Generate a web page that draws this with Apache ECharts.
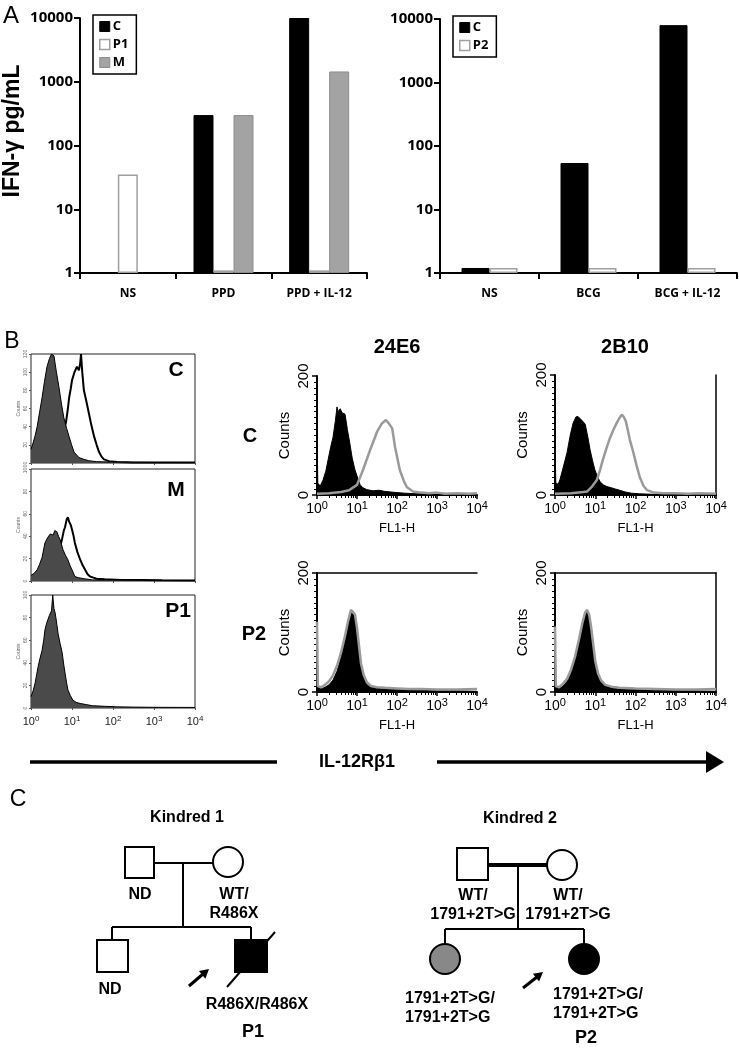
<!DOCTYPE html>
<html><head><meta charset="utf-8">
<script src="https://cdn.jsdelivr.net/npm/echarts@6/dist/echarts.min.js"></script>
<style>html,body{margin:0;padding:0;background:#fff}#c{width:739px;height:1050px}</style>
</head><body><div id="c"></div><script>
// ---------- Panel A data ----------
const catsA1 = ['NS', 'PPD', 'PPD + IL-12'];
const a1C  = [null, 300, 10000];
const a1P1 = [35, 1.1, 1.1];
const a1M  = [null, 300, 1450];
const catsA2 = ['NS', 'BCG', 'BCG + IL-12'];
const a2C  = [1.2, 54, 8000];
const a2P2 = [1.2, 1.2, 1.2];
const flTickExp = ['0', '1', '2', '3', '4'];

// ---------- Panel B data: [log10(FL1-H), counts] ----------
const bC_iso = [[0,15],[0.05,22],[0.1,30],[0.15,40],[0.21,56],[0.27,72],[0.33,90],[0.39,106],[0.45,115],[0.5,120],[0.53,120],[0.56,118],[0.62,100],[0.68,84],[0.74,66],[0.8,50],[0.87,38],[0.93,29],[0.99,20],[1.05,12],[1.11,9],[1.17,6],[1.29,4],[1.41,2.5],[1.6,1.5],[2,1],[2.5,0.8],[3,0.6],[3.5,0.6],[4,0.5]];
const bC_ab  = [[0,1],[0.3,3],[0.5,8],[0.65,18],[0.75,30],[0.85,44],[0.9,60],[0.93,72],[0.97,82],[1.0,91],[1.06,100],[1.12,106],[1.17,102],[1.2,110],[1.22,120],[1.25,100],[1.29,80],[1.35,68],[1.41,55],[1.47,42],[1.54,29],[1.6,20],[1.66,12],[1.72,7],[1.78,4],[1.9,2],[2.1,1],[2.5,0.6],[3,0.5],[4,0.5]];
const bM_iso = [[0,5],[0.08,7],[0.15,10],[0.21,15],[0.27,21],[0.34,34],[0.41,39],[0.47,42],[0.54,41],[0.58,45],[0.63,44],[0.67,40],[0.71,37],[0.78,28],[0.84,23],[0.9,19],[0.95,14],[1.0,10],[1.07,4],[1.15,3],[1.3,2],[1.5,1],[2,0.8],[3,0.5],[4,0.5]];
const bM_ab  = [[0,1],[0.3,3],[0.5,10],[0.65,22],[0.72,32],[0.76,38],[0.8,45],[0.83,48],[0.87,55],[0.9,57],[0.93,53],[0.97,50],[1.0,46],[1.04,40],[1.07,34],[1.13,26],[1.2,19],[1.26,14],[1.32,10],[1.38,6],[1.44,4],[1.52,3],[1.6,2],[1.8,1.5],[2.2,1],[2.7,0.8],[3.2,0.6],[4,0.5]];
const bP1_iso = [[0,10],[0.05,15],[0.1,22],[0.17,36],[0.22,44],[0.27,51],[0.31,60],[0.34,69],[0.38,75],[0.41,78],[0.45,82],[0.5,86],[0.53,100],[0.56,88],[0.59,84],[0.63,74],[0.66,66],[0.71,57],[0.76,49],[0.8,38],[0.83,31],[0.87,22],[0.9,16],[0.96,11],[1.02,7],[1.1,5],[1.2,4],[1.35,3],[1.5,2],[1.8,1.5],[2.1,1],[2.5,0.8],[3,0.6],[4,0.5]];
const r24C_iso = [[0,113],[0.02,20],[0.08,15],[0.15,25],[0.22,40],[0.28,60],[0.34,80],[0.4,97],[0.46,125],[0.5,148],[0.53,140],[0.58,145],[0.63,138],[0.7,136],[0.76,110],[0.82,87],[0.88,62],[0.95,42],[1.02,28],[1.08,17],[1.15,12],[1.25,9],[1.4,7],[1.55,8],[1.7,6],[1.85,5],[2.0,4],[2.2,3],[2.5,2],[3,2],[3.5,1],[4,1]];
const r24C_ab  = [[0,2],[0.3,3],[0.6,5],[0.8,8],[1.0,17],[1.15,42],[1.33,76],[1.5,106],[1.62,120],[1.72,126],[1.8,120],[1.88,112],[1.95,81],[2.07,42],[2.18,22],[2.25,13],[2.4,6],[2.6,4],[2.8,3],[3.0,4],[3.2,2],[3.5,3],[3.8,2],[4,3]];
const r2BC_iso = [[0,96],[0.02,20],[0.08,18],[0.12,25],[0.2,45],[0.3,71],[0.38,100],[0.45,120],[0.52,130],[0.57,131],[0.63,127],[0.7,122],[0.75,118],[0.82,95],[0.87,76],[0.93,58],[0.99,42],[1.06,30],[1.12,22],[1.2,17],[1.29,14],[1.4,12],[1.5,10],[1.6,8],[1.75,5],[1.9,3],[2.1,2],[2.5,1],[3,1],[4,1]];
const r2BC_ab  = [[0,2],[0.4,3],[0.7,5],[0.8,6],[0.92,14],[1.04,25],[1.12,42],[1.19,59],[1.28,78],[1.37,96],[1.46,110],[1.54,121],[1.6,128],[1.66,134],[1.71,130],[1.76,123],[1.81,108],[1.86,92],[1.93,75],[1.99,59],[2.05,43],[2.11,29],[2.2,15],[2.29,8],[2.45,4],[2.7,3],[3,3],[3.3,2],[3.6,3],[4,2]];
const r24P2_iso = [[0,120],[0.02,10],[0.1,5],[0.2,8],[0.3,12],[0.4,20],[0.5,35],[0.6,58],[0.7,88],[0.78,115],[0.85,132],[0.9,136],[0.95,128],[1.0,105],[1.05,75],[1.1,45],[1.17,25],[1.25,14],[1.35,9],[1.5,6],[1.7,5],[2,4],[2.5,3],[3,2],[3.5,2],[4,1]];
const r24P2_ab  = [[0,118],[0.02,10],[0.1,8],[0.2,12],[0.3,18],[0.4,28],[0.5,44],[0.6,66],[0.7,94],[0.78,120],[0.85,138],[0.9,140],[0.95,130],[1.0,108],[1.05,78],[1.1,48],[1.17,28],[1.25,16],[1.35,10],[1.5,8],[1.7,7],[2,6],[2.3,5],[2.6,5],[3,4],[3.5,4],[4,5]];
const r2BP2_iso = [[0,115],[0.02,10],[0.1,6],[0.2,10],[0.3,18],[0.4,32],[0.5,55],[0.6,85],[0.68,112],[0.75,130],[0.8,136],[0.85,128],[0.9,105],[0.95,75],[1.0,48],[1.07,28],[1.15,16],[1.25,10],[1.4,7],[1.6,5],[2,4],[2.5,3],[3,2],[3.5,2],[4,1]];
const r2BP2_ab  = [[0,110],[0.02,10],[0.1,8],[0.2,14],[0.3,22],[0.4,38],[0.5,60],[0.6,90],[0.68,116],[0.75,134],[0.8,138],[0.85,130],[0.9,108],[0.95,80],[1.0,52],[1.07,31],[1.15,19],[1.25,12],[1.4,9],[1.6,7],[2,6],[2.5,5],[3,4],[3.5,4],[4,5]];

// ---------- helpers ----------
const toFL = pts => pts.map(p => [Math.pow(10, p[0]), p[1]]);
const flFmt = v => '{b|10}{s|' + (flTickExp[Math.round(Math.log10(v))] || '') + '}';
const FA = 'Open Sans, Liberation Sans, sans-serif';
const FB = 'Liberation Sans, Arial, sans-serif';

const grids = [
  {left: 80, top: 18, width: 287, height: 255},
  {left: 440, top: 19, width: 297, height: 254},
  {left: 31, top: 354, width: 164, height: 109, show: true, borderColor: '#222', borderWidth: 1},
  {left: 31, top: 469, width: 164, height: 112, show: true, borderColor: '#222', borderWidth: 1},
  {left: 31, top: 595, width: 164, height: 113, show: true, borderColor: '#222', borderWidth: 1},
  {left: 317, top: 376, width: 160, height: 119},
  {left: 555, top: 375, width: 161, height: 120},
  {left: 317, top: 573, width: 160, height: 119},
  {left: 555, top: 573, width: 161, height: 119}
];

function catX(g, cats) {
  return {gridIndex: g, type: 'category', data: cats,
    axisLine: {lineStyle: {color: '#000', width: 2}},
    axisTick: {show: true, length: 6, lineStyle: {color: '#000', width: 2}},
    axisLabel: {margin: 15, color: '#000', fontWeight: 'bold', fontSize: 12, fontFamily: FA}};
}
function logY(g) {
  return {gridIndex: g, type: 'log', logBase: 10, min: 1, max: 10000,
    splitLine: {show: false},
    axisLine: {show: true, lineStyle: {color: '#000', width: 2}},
    axisTick: {show: true, length: 6, lineStyle: {color: '#000', width: 2}},
    axisLabel: {color: '#000', fontWeight: 'bold', fontSize: 15, fontFamily: FA, margin: 7,
      formatter: v => String(Math.round(v))}};
}
function leftHX(g, labels) {
  return {gridIndex: g, type: 'log', logBase: 10, min: 1, max: 10000,
    splitLine: {show: false},
    axisLine: {show: false, onZero: false},
    axisTick: {show: true, length: 2, lineStyle: {color: '#555'}},
    axisLabel: {show: labels, formatter: flFmt, color: '#222', fontFamily: FB, margin: 7,
      rich: {b: {fontSize: 11, fontFamily: FB, color: '#222'}, s: {fontSize: 8, fontFamily: FB, color: '#222', padding: [0, 0, 6, 0]}}}};
}
function leftHY(g, max) {
  return {gridIndex: g, type: 'value', min: 0, max: max, interval: 20,
    splitLine: {show: false}, axisLine: {show: false},
    axisTick: {show: true, length: 2, lineStyle: {color: '#555'}},
    axisLabel: {show: true, rotate: 90, fontSize: 5, color: '#666', margin: 3},
    name: 'Counts', nameLocation: 'middle', nameGap: 10, nameTextStyle: {fontSize: 5, color: '#666'}};
}
function rightHX(g) {
  return {gridIndex: g, type: 'log', logBase: 10, min: 1, max: 10000,
    splitLine: {show: false},
    axisLine: {show: true, onZero: false, lineStyle: {color: '#000', width: 2}},
    axisTick: {show: true, length: 4, lineStyle: {color: '#000', width: 1.5}},
    minorTick: {show: true, splitNumber: 9, length: 3, lineStyle: {color: '#000', width: 1}},
    axisLabel: {formatter: flFmt, color: '#000', fontFamily: FB, margin: 5,
      rich: {b: {fontSize: 14, fontFamily: FB, color: '#000'}, s: {fontSize: 11, fontFamily: FB, color: '#000', padding: [0, 0, 8, 0]}}},
    name: 'FL1-H', nameLocation: 'middle', nameGap: 27, nameTextStyle: {fontSize: 13, color: '#000', fontFamily: FB}};
}
function rightHY(g) {
  return {gridIndex: g, type: 'value', min: 0, max: 200, interval: 200,
    splitLine: {show: false},
    axisLine: {show: true, lineStyle: {color: '#000', width: 2}},
    axisTick: {show: true, length: 5, lineStyle: {color: '#000', width: 1.5}},
    minorTick: {show: true, splitNumber: 20, length: 3, lineStyle: {color: '#000', width: 1}},
    axisLabel: {rotate: 90, fontSize: 15, color: '#000', fontFamily: FB, margin: 6},
    name: 'Counts', nameLocation: 'middle', nameGap: 25, nameTextStyle: {fontSize: 15, color: '#000', fontFamily: FB}};
}
function frameAxis(g, pos) {
  return {gridIndex: g, type: 'value', min: 0, max: 1, position: pos,
    splitLine: {show: false}, axisTick: {show: false}, axisLabel: {show: false},
    axisLine: {show: true, onZero: false, lineStyle: {color: '#000', width: 1.5}}};
}

const xAxis = [catX(0, catsA1), catX(1, catsA2),
  leftHX(2, false), leftHX(3, false), leftHX(4, true),
  rightHX(5), rightHX(6), rightHX(7), rightHX(8),
  frameAxis(7, 'top'), frameAxis(8, 'top')];
const yAxis = [logY(0), logY(1),
  leftHY(2, 120), leftHY(3, 100), leftHY(4, 100),
  rightHY(5), rightHY(6), rightHY(7), rightHY(8),
  frameAxis(6, 'right'), frameAxis(8, 'right')];

const styC  = {color: '#000', borderColor: '#000', borderWidth: 1};
const styP  = {color: '#fff', borderColor: '#a0a0a0', borderWidth: 1.5};
const styM  = {color: '#a3a3a3', borderColor: '#8d8d8d', borderWidth: 1};

function bar(name, idx, data, sty, w) {
  return {type: 'bar', name: name, xAxisIndex: idx, yAxisIndex: idx, data: data,
    barWidth: w, barGap: '0%', itemStyle: sty};
}
function filled(idx, pts, fill, z) {
  return {type: 'line', xAxisIndex: idx, yAxisIndex: idx, data: toFL(pts), symbol: 'none',
    lineStyle: {color: '#000', width: 1}, itemStyle: {color: fill},
    areaStyle: {color: fill, opacity: 1}, z: z};
}
function outline(idx, pts, col, w, z) {
  return {type: 'line', xAxisIndex: idx, yAxisIndex: idx, data: toFL(pts), symbol: 'none',
    lineStyle: {color: col, width: w}, itemStyle: {color: col}, z: z};
}

const series = [
  bar('C', 0, a1C, styC, 20), bar('P1', 0, a1P1, styP, 20), bar('M', 0, a1M, styM, 20),
  bar('C', 1, a2C, styC, 28), bar('P2', 1, a2P2, styP, 28),
  outline(2, bC_ab, '#000', 2, 2), filled(2, bC_iso, '#4a4a4a', 3),
  outline(3, bM_ab, '#000', 2, 2), filled(3, bM_iso, '#4a4a4a', 3),
  filled(4, bP1_iso, '#4a4a4a', 3),
  filled(5, r24C_iso, '#000', 2), outline(5, r24C_ab, '#9a9a9a', 2.5, 3),
  filled(6, r2BC_iso, '#000', 2), outline(6, r2BC_ab, '#9a9a9a', 2.5, 3),
  filled(7, r24P2_iso, '#000', 2), outline(7, r24P2_ab, '#9a9a9a', 2.5, 3),
  filled(8, r2BP2_iso, '#000', 2), outline(8, r2BP2_ab, '#9a9a9a', 2.5, 3)
];

const legendBase = {orient: 'vertical', icon: 'rect', itemWidth: 10, itemHeight: 10, itemGap: 5,
  borderColor: '#000', borderWidth: 1.5, padding: [5, 8, 5, 6], selectedMode: false,
  textStyle: {fontWeight: 'bold', fontSize: 13, color: '#000', fontFamily: FA, padding: [0, 0, 0, -2]}};
const legend = [
  Object.assign({}, legendBase, {left: 93, top: 15, data: [
    {name: 'C', itemStyle: styC}, {name: 'P1', itemStyle: styP}, {name: 'M', itemStyle: styM}]}),
  Object.assign({}, legendBase, {left: 453, top: 16, data: [
    {name: 'C', itemStyle: styC}, {name: 'P2', itemStyle: styP}]})
];

// ---------- annotations ----------
function T(text, x, y, size, weight, family, align) {
  return {type: 'text', x: x, y: y, style: {text: text, fontSize: size, fontWeight: weight || 'normal',
    fontFamily: family || FB, fill: '#000', align: align || 'center', verticalAlign: 'middle', lineHeight: size + 3}};
}
function L(x1, y1, x2, y2, w) {
  return {type: 'line', shape: {x1: x1, y1: y1, x2: x2, y2: y2}, style: {stroke: '#000', lineWidth: w || 2}};
}
function R(x, y, w, h, fill) {
  return {type: 'rect', shape: {x: x, y: y, width: w, height: h}, style: {fill: fill, stroke: '#000', lineWidth: 2}};
}
function Cc(cx, cy, r, fill) {
  return {type: 'circle', shape: {cx: cx, cy: cy, r: r}, style: {fill: fill, stroke: '#000', lineWidth: 2}};
}
function P(pts, fill) {
  return {type: 'polygon', shape: {points: pts}, style: {fill: fill || '#000'}};
}

const graphic = [
  T('A', 11, 16, 24, 'normal'),
  {type: 'text', x: 13, y: 131, rotation: Math.PI / 2,
    style: {text: 'IFN-γ pg/mL', fontSize: 23, fontWeight: 'bold', fontFamily: FB, fill: '#000', align: 'center', verticalAlign: 'middle'}},
  T('B', 12, 342, 23, 'normal'),
  T('C', 176, 370, 21, 'bold'), T('M', 176, 490, 21, 'bold'), T('P1', 178, 611, 21, 'bold'),
  T('24E6', 397, 347, 20, 'bold'), T('2B10', 625, 347, 20, 'bold'),
  T('C', 250, 436, 20, 'bold'), T('P2', 254, 634, 20, 'bold'),
  L(30, 762, 277, 762, 3.5), L(437, 762, 708, 762, 3.5), P([[706, 751], [724, 762], [706, 773]]),
  T('IL-12Rβ1', 357, 762, 18, 'bold'),
  // Panel C
  T('C', 18, 800, 23, 'normal'),
  T('Kindred 1', 187, 818, 16, 'bold'),
  L(154, 863, 213, 863), L(183, 863, 183, 927), L(112, 927, 251, 927),
  L(112, 927, 112, 940), L(251, 927, 251, 940),
  R(125, 847, 29, 31, '#fff'), Cc(228, 862, 15, '#fff'),
  R(97, 940, 31, 32, '#fff'), R(235, 940, 32, 32, '#000'),
  L(227, 987, 275, 932),
  L(189, 986, 203, 974, 3), P([[209, 969], [205.4, 978.7], [198.9, 971.1]]),
  T('ND', 140, 895, 16, 'bold'), T('WT/\nR486X', 234, 904, 16, 'bold'),
  T('ND', 110, 990, 16, 'bold'), T('R486X/R486X', 257, 1005, 16, 'bold'),
  T('P1', 253, 1032, 18, 'bold'),
  T('Kindred 2', 520, 819, 16, 'bold'),
  L(488, 865, 547, 865, 4), L(518, 865, 518, 929), L(445, 929, 584, 929),
  L(445, 929, 445, 944), L(584, 929, 584, 944),
  R(457, 848, 31, 32, '#fff'), Cc(562, 865, 15, '#fff'),
  Cc(445, 959, 15, '#888'), Cc(584, 959, 15, '#000'),
  L(523, 988, 537, 977, 3), P([[543, 972], [539.1, 981.5], [532.9, 973.7]]),
  T('WT/\n1791+2T>G', 473, 905, 16, 'bold'), T('WT/\n1791+2T>G', 568, 905, 16, 'bold'),
  T('1791+2T>G/\n1791+2T>G', 405, 1008, 16, 'bold', FB, 'left'),
  T('1791+2T>G/\n1791+2T>G', 553, 1004, 16, 'bold', FB, 'left'),
  T('P2', 586, 1038, 18, 'bold')
];

const chart = echarts.init(document.getElementById('c'), null, {renderer: 'canvas'});
chart.setOption({animation: false, backgroundColor: '#fff', grid: grids, xAxis: xAxis, yAxis: yAxis,
  legend: legend, series: series, graphic: graphic});
</script></body></html>
